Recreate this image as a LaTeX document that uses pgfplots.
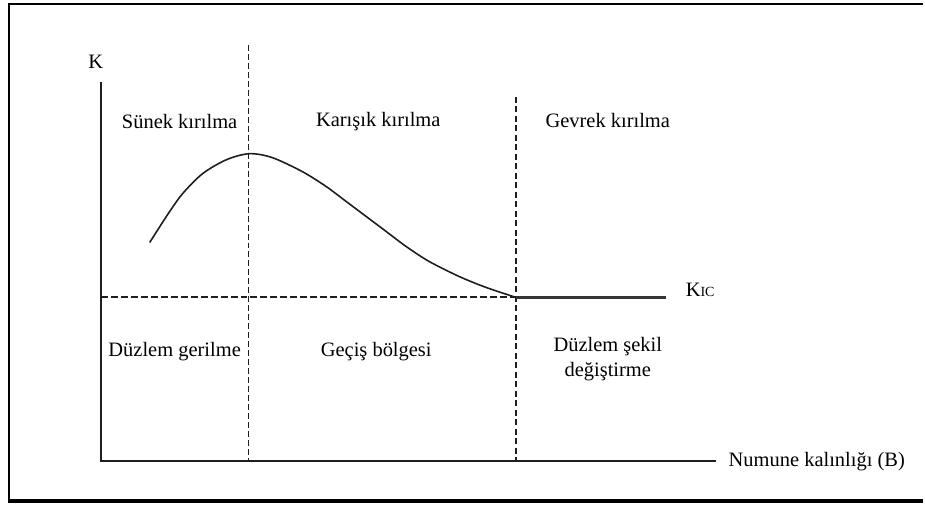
\documentclass[border=0pt]{standalone}
\usepackage{pgfplots}
\pgfplotsset{compat=1.18}
\usepackage{fontspec}
\setmainfont{Liberation Serif}

\definecolor{ink}{HTML}{1E1E1E}

\begin{document}
\begin{tikzpicture}
\begin{axis}[
  width=925pt, height=506pt, scale only axis,
  xmin=0, xmax=925, ymin=0, ymax=506,
  y dir=reverse,
  hide axis, clip=false,
]
% page extent
\path (axis cs:0,0) rectangle (axis cs:925,506);

% outer frame (open on the right)
\draw[line width=2.8pt] (axis cs:925,4) -- (axis cs:9,4) -- (axis cs:9,502);
\draw[line width=3.8pt] (axis cs:7.6,502) -- (axis cs:925,502);

% axes
\draw[line width=2.2pt, ink] (axis cs:101,82) -- (axis cs:101,462) -- (axis cs:717,462);

% region boundaries
\draw[line width=1.3pt, ink, dash pattern=on 6pt off 3pt] (axis cs:249,45) -- (axis cs:249,462);
\draw[line width=2.2pt, ink, dash pattern=on 6pt off 3.5pt] (axis cs:517,97) -- (axis cs:517,462);
\draw[line width=1.9pt, ink, dash pattern=on 7pt off 3pt] (axis cs:101,298) -- (axis cs:517,298);

% K_IC plateau
\addplot[line width=2.8pt, color=ink!90, no marks] coordinates {(517,298) (667,298)};

% stress intensity vs. thickness
\addplot[line width=1.6pt, color=ink, smooth, no marks] coordinates {
  (150,243) (157,232) (170,212) (183,194) (203,174) (227,160) (250,154)
  (273,158) (303,172) (327,187) (347,202) (367,217) (387,232) (407,247)
  (430,262) (460,277) (487,288) (517,298)
};

% labels
\begin{scope}[font=\fontsize{20.5}{24}\selectfont]
\node at (axis cs:96,62) {K};
\node at (axis cs:180,122) {Sünek kırılma};
\node at (axis cs:379,122) {Karışık kırılma};
\node at (axis cs:609,121) {Gevrek kırılma};
\node at (axis cs:175,352) {Düzlem gerilme};
\node at (axis cs:377,352) {Geçiş bölgesi};
\node[align=center, inner sep=0pt] at (axis cs:609,360) {Düzlem şekil\\[1pt]değiştirme};
\node[anchor=west, inner sep=0pt] at (axis cs:730,463) {Numune kalınlığı (B)};
\node[anchor=base west, inner sep=0pt] at (axis cs:687,297) {K{\fontsize{14}{16}\selectfont IC}};
\end{scope}
\end{axis}
\end{tikzpicture}
\end{document}
